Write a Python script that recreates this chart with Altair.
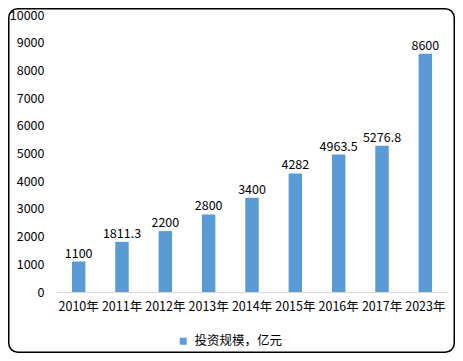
import altair as alt
import pandas as pd

years = ["2010年", "2011年", "2012年", "2013年", "2014年", "2015年", "2016年", "2017年", "2023年"]
values = [1100, 1811.3, 2200, 2800, 3400, 4282, 4963.5, 5276.8, 8600]
labels = ["1100", "1811.3", "2200", "2800", "3400", "4282", "4963.5", "5276.8", "8600"]
series_name = "投资规模，亿元"
y_ticks = list(range(0, 10001, 1000))

df = pd.DataFrame({"year": years, "value": values, "label": labels, "series": [series_name] * len(years)})

FONT = "Noto Sans CJK SC"

x_axis = alt.Axis(labelAngle=0, ticks=False, domainColor="#d9d9d9", domainWidth=1,
                  labelPadding=8, labelFontSize=12.5, labelColor="#000000", labelFont=FONT)
y_axis = alt.Axis(values=y_ticks, format="d", labelOverlap=False, grid=False, domain=False,
                  ticks=False, labelPadding=13, labelFontSize=12.5, labelColor="#000000",
                  labelFont=FONT)
x_scale = alt.Scale(paddingInner=0.69, paddingOuter=0.345)
y_scale = alt.Scale(domain=[0, 10000], nice=False)

bars = alt.Chart(df).mark_bar(color="#5B9BD5").encode(
    x=alt.X("year:N", sort=years, title=None, scale=x_scale, axis=x_axis),
    y=alt.Y("value:Q", title=None, scale=y_scale, axis=y_axis),
    color=alt.Color("series:N", scale=alt.Scale(range=["#5B9BD5"]), title=None,
                    legend=alt.Legend(orient="none", legendX=120, legendY=320, symbolType="square",
                                      symbolSize=49, symbolStrokeWidth=0, labelFontSize=12.5,
                                      labelFont=FONT, labelColor="#000000", labelOffset=5, padding=0))
)

text = alt.Chart(df).mark_text(baseline="alphabetic", dy=-4, fontSize=12.5, font=FONT, color="#000000").encode(
    x=alt.X("year:N", sort=years, title=None, scale=x_scale, axis=x_axis),
    y=alt.Y("value:Q", title=None, scale=y_scale, axis=y_axis),
    text="label:N"
)

border = alt.Chart(pd.DataFrame({"a": [0]})).mark_rect(
    fill=None, stroke="#000000", strokeWidth=1.5, cornerRadius=9
).encode(
    x=alt.value(-48.25), x2=alt.value(397.25), y=alt.value(-6.25), y2=alt.value(337.25)
)

chart = alt.layer(bars, text, border).properties(
    width=390, height=277,
    autosize=alt.AutoSizeParams(type="none"),
    padding={"left": 49, "top": 7, "right": 8, "bottom": 61},
    background="#ffffff"
).configure_view(stroke=None)

chart.save("out.html", embed_options={"renderer": "svg", "actions": False})
